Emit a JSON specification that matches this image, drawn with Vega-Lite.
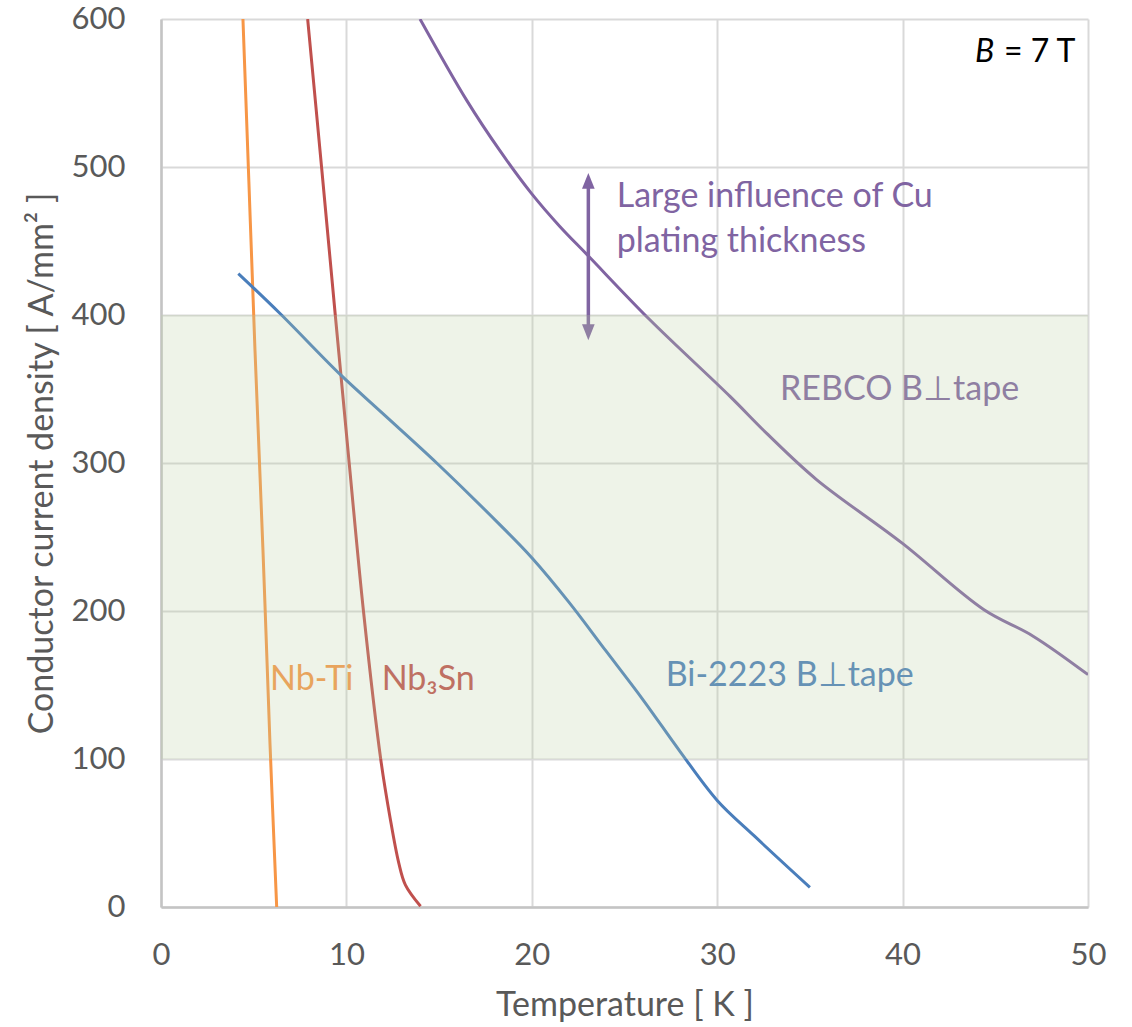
{
  "$schema": "https://vega.github.io/schema/vega-lite/v6.json",
  "width": 927,
  "height": 888,
  "autosize": {"type": "none"},
  "padding": {"left": 161, "top": 19, "right": 44, "bottom": 120},
  "background": "white",
  "config": {
    "view": {"stroke": null},
    "font": "Lato",
    "axis": {
      "grid": true,
      "gridColor": "#d9d9d9",
      "gridWidth": 2,
      "domainColor": "#c4c4c4",
      "domainWidth": 2.5,
      "ticks": false,
      "labelFlush": false,
      "labelFont": "Lato",
      "labelFontSize": 31,
      "labelColor": "#595959",
      "titleFont": "Lato",
      "titleFontSize": 34,
      "titleFontWeight": "normal",
      "titleColor": "#595959"
    }
  },
  "datasets": {
    "curves": [
      {"series": "Nb-Ti", "T": 4.42, "J": 600},
      {"series": "Nb-Ti", "T": 4.74, "J": 490},
      {"series": "Nb-Ti", "T": 5.07, "J": 376},
      {"series": "Nb-Ti", "T": 5.5, "J": 241},
      {"series": "Nb-Ti", "T": 5.88, "J": 110},
      {"series": "Nb-Ti", "T": 6.24, "J": 0},
      {"series": "Nb3Sn", "T": 7.91, "J": 600},
      {"series": "Nb3Sn", "T": 8.66, "J": 500},
      {"series": "Nb3Sn", "T": 9.4, "J": 400},
      {"series": "Nb3Sn", "T": 10.15, "J": 300},
      {"series": "Nb3Sn", "T": 10.92, "J": 200},
      {"series": "Nb3Sn", "T": 11.85, "J": 100},
      {"series": "Nb3Sn", "T": 12.36, "J": 60},
      {"series": "Nb3Sn", "T": 12.82, "J": 30},
      {"series": "Nb3Sn", "T": 13.18, "J": 15},
      {"series": "Nb3Sn", "T": 14.0, "J": 0.5},
      {"series": "Bi-2223", "T": 4.17, "J": 428},
      {"series": "Bi-2223", "T": 6.42, "J": 401},
      {"series": "Bi-2223", "T": 9.65, "J": 360},
      {"series": "Bi-2223", "T": 12, "J": 333},
      {"series": "Bi-2223", "T": 14.87, "J": 300},
      {"series": "Bi-2223", "T": 18.3, "J": 258},
      {"series": "Bi-2223", "T": 20, "J": 236},
      {"series": "Bi-2223", "T": 22, "J": 206},
      {"series": "Bi-2223", "T": 24, "J": 173},
      {"series": "Bi-2223", "T": 26, "J": 140},
      {"series": "Bi-2223", "T": 28, "J": 105},
      {"series": "Bi-2223", "T": 30, "J": 72},
      {"series": "Bi-2223", "T": 32, "J": 48},
      {"series": "Bi-2223", "T": 35.0, "J": 13.3},
      {"series": "REBCO", "T": 13.97, "J": 600},
      {"series": "REBCO", "T": 16.49, "J": 545},
      {"series": "REBCO", "T": 18.28, "J": 511},
      {"series": "REBCO", "T": 19.99, "J": 482},
      {"series": "REBCO", "T": 21.5, "J": 460},
      {"series": "REBCO", "T": 23.04, "J": 440},
      {"series": "REBCO", "T": 26.38, "J": 396.6},
      {"series": "REBCO", "T": 30.69, "J": 345},
      {"series": "REBCO", "T": 32.67, "J": 320},
      {"series": "REBCO", "T": 35.34, "J": 289},
      {"series": "REBCO", "T": 39.96, "J": 246},
      {"series": "REBCO", "T": 44.37, "J": 201},
      {"series": "REBCO", "T": 47.04, "J": 183},
      {"series": "REBCO", "T": 50, "J": 157}
    ],
    "labels": [
      {"series": "Nb-Ti", "T": 5.88, "J": 146.6, "text": "Nb-Ti"},
      {"series": "Nb3Sn", "T": 11.9, "J": 146.6, "text": "Nb₃Sn"},
      {"series": "Bi-2223", "T": 27.22, "J": 149.3, "text": "Bi-2223 B⊥tape"},
      {"series": "REBCO", "T": 33.39, "J": 342.7, "text": "REBCO B⊥tape"},
      {"series": "REBCO", "T": 24.58, "J": 473.2, "text": "Large influence of Cu"},
      {"series": "REBCO", "T": 24.58, "J": 442.8, "text": "plating thickness"}
    ]
  },
  "layer": [
    {
      "data": {"name": "curves"},
      "mark": {"type": "line", "strokeWidth": 3, "interpolate": "catmull-rom", "clip": true},
      "encoding": {
        "x": {"field": "T", "type": "quantitative", "scale": {"domain": [0, 50], "nice": false},
              "axis": {"values": [0, 10, 20, 30, 40, 50], "title": "Temperature [ K ]", "labelPadding": 33, "titlePadding": 18}},
        "y": {"field": "J", "type": "quantitative", "scale": {"domain": [0, 600], "nice": false},
              "axis": {"values": [0, 100, 200, 300, 400, 500, 600], "title": "Conductor current density [ A/mm² ]", "labelPadding": 36, "titlePadding": 12}},
        "color": {"field": "series", "type": "nominal",
                  "scale": {"domain": ["Nb-Ti", "Nb3Sn", "Bi-2223", "REBCO"], "range": ["#f79646", "#c0504d", "#4a7ebb", "#8064a2"]},
                  "legend": null},
        "detail": {"field": "series"}
      }
    },
    {
      "data": {"name": "labels"},
      "mark": {"type": "text", "align": "left", "baseline": "alphabetic", "fontSize": 34, "font": "Lato"},
      "encoding": {
        "x": {"field": "T", "type": "quantitative"},
        "y": {"field": "J", "type": "quantitative"},
        "text": {"field": "text"},
        "color": {"field": "series", "type": "nominal", "legend": null}
      }
    },
    {
      "data": {"values": [{"T": 23.05, "J1": 392, "J2": 486}]},
      "mark": {"type": "rule", "strokeWidth": 3.5, "color": "#8064a2"},
      "encoding": {
        "x": {"field": "T", "type": "quantitative"},
        "y": {"field": "J1", "type": "quantitative"},
        "y2": {"field": "J2"}
      }
    },
    {
      "data": {"values": [{"T": 23.05, "J": 496, "dir": "up"}]},
      "mark": {"type": "point", "filled": true, "opacity": 1, "size": 1000, "shape": "M0,0L0.4,1L-0.4,1Z", "strokeWidth": 0, "color": "#8064a2"},
      "encoding": {
        "x": {"field": "T", "type": "quantitative"},
        "y": {"field": "J", "type": "quantitative"}
      }
    },
    {
      "data": {"values": [{"T": 23.05, "J": 383, "dir": "down"}]},
      "mark": {"type": "point", "filled": true, "opacity": 1, "size": 1000, "shape": "M0,0L0.4,-1L-0.4,-1Z", "strokeWidth": 0, "color": "#8064a2"},
      "encoding": {
        "x": {"field": "T", "type": "quantitative"},
        "y": {"field": "J", "type": "quantitative"}
      }
    },
    {
      "data": {"values": [{"T": 43.9, "J": 571, "text": "B"}]},
      "mark": {"type": "text", "align": "left", "baseline": "alphabetic", "fontSize": 32, "fontStyle": "italic", "font": "Lato", "color": "#000000"},
      "encoding": {
        "x": {"field": "T", "type": "quantitative"},
        "y": {"field": "J", "type": "quantitative"},
        "text": {"field": "text"}
      }
    },
    {
      "data": {"values": [{"T": 45.47, "J": 571, "text": "= 7 T"}]},
      "mark": {"type": "text", "align": "left", "baseline": "alphabetic", "fontSize": 32, "font": "Lato", "color": "#000000"},
      "encoding": {
        "x": {"field": "T", "type": "quantitative"},
        "y": {"field": "J", "type": "quantitative"},
        "text": {"field": "text"}
      }
    },
    {
      "data": {"values": [{"T1": 0, "T2": 50, "J1": 100, "J2": 400}]},
      "mark": {"type": "rect", "color": "#bbcfa3", "opacity": 0.25},
      "encoding": {
        "x": {"field": "T1", "type": "quantitative"},
        "x2": {"field": "T2"},
        "y": {"field": "J1", "type": "quantitative"},
        "y2": {"field": "J2"}
      }
    }
  ]
}
